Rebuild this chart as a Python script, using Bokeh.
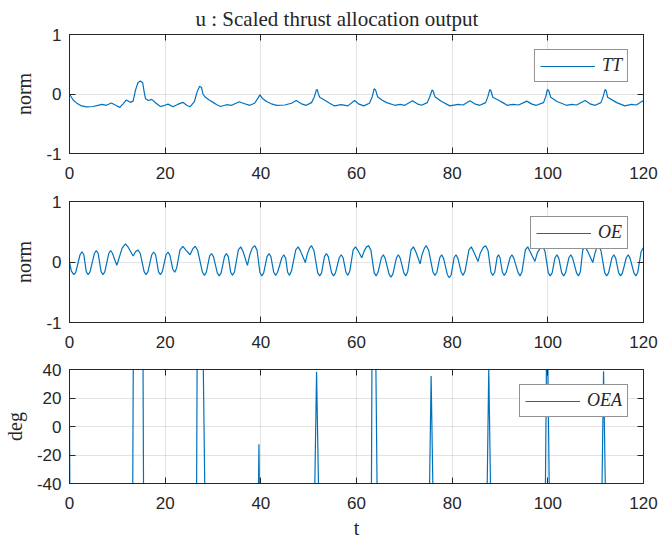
from bokeh.plotting import figure
from bokeh.layouts import column
from bokeh.models import (LinearAxis, Range1d, Legend, LegendItem, FixedTicker, Title)
from bokeh.embed import file_html
from bokeh.resources import INLINE

# ---- data -------------------------------------------------------------
time_ticks = [0, 20, 40, 60, 80, 100, 120]
norm_ticks = [-1, 0, 1]
deg_ticks = [-40, -20, 0, 20, 40]

# TT: scaled thrust output (norm)
tt_points = [
    (0, 0), (0.76, -0.10), (1.46, -0.15), (2.5, -0.20), (3.54, -0.215), (4.93, -0.21),
    (5.97, -0.19), (6.8, -0.175), (7.7, -0.19), (8.75, -0.15), (9.65, -0.19), (10.5, -0.225),
    (11.2, -0.165), (11.9, -0.10), (12.7, -0.14), (13.3, -0.12), (13.8, 0.065), (14.3, 0.19),
    (14.8, 0.22), (15.3, 0.19), (15.6, 0.04), (15.9, -0.08), (16.5, -0.11), (17.2, -0.09),
    (18.1, -0.155), (19.0, -0.21), (19.9, -0.19), (20.6, -0.17), (21.6, -0.215), (22.6, -0.175),
    (23.7, -0.14), (24.5, -0.19), (25.2, -0.215), (26.1, -0.13), (26.7, 0.04), (27.2, 0.13),
    (27.6, 0.11), (27.9, 0.0), (28.4, -0.055), (29.2, -0.10), (30.1, -0.145), (30.8, -0.18),
    (31.6, -0.21), (32.8, -0.18), (33.9, -0.19), (35.5, -0.13), (36.3, -0.155), (37.7, -0.19),
    (38.7, -0.155), (39.4, -0.07), (39.8, -0.015), (40.3, -0.07), (41.2, -0.125), (42.2, -0.165),
    (43.3, -0.19), (45.0, -0.185), (46.4, -0.155), (47.4, -0.11), (48.5, -0.165), (49.5, -0.19),
    (50.6, -0.145), (51.2, -0.045), (51.6, 0.065), (51.8, 0.075), (52.0, 0.01), (52.3, -0.055),
    (53.3, -0.10), (54.4, -0.155), (55.4, -0.20), (56.8, -0.18), (58.2, -0.20), (59.6, -0.11),
    (60.4, -0.165), (61.5, -0.20), (62.7, -0.155), (63.3, -0.045), (63.7, 0.09), (64.0, 0.065),
    (64.4, -0.045), (65.3, -0.10), (66.3, -0.145), (68.0, -0.19), (69.1, -0.175), (70.1, -0.19),
    (71.7, -0.115), (72.7, -0.165), (73.6, -0.19), (74.8, -0.145), (75.3, -0.045), (75.8, 0.065),
    (76.0, 0.055), (76.4, -0.045), (77.8, -0.125), (79.5, -0.20), (81.25, -0.175), (82.3, -0.185),
    (83.7, -0.115), (84.7, -0.165), (85.8, -0.19), (87.0, -0.145), (87.5, -0.035), (87.85, 0.075),
    (88.1, 0.055), (88.5, -0.055), (89.6, -0.10), (90.6, -0.145), (91.5, -0.19), (92.8, -0.175),
    (93.9, -0.185), (95.6, -0.12), (96.7, -0.17), (97.6, -0.19), (99.1, -0.145), (99.6, -0.035),
    (99.9, 0.075), (100.2, 0.055), (100.6, -0.055), (101.9, -0.125), (103.9, -0.19), (105.0, -0.175),
    (106.0, -0.185), (107.8, -0.11), (108.8, -0.165), (109.9, -0.19), (111.1, -0.145), (111.6, -0.035),
    (111.95, 0.075), (112.2, 0.055), (112.5, -0.055), (114.4, -0.145), (116.1, -0.20), (117.5, -0.175),
    (118.5, -0.185), (119.9, -0.115), (120, -0.12),
]

# OE: output error (norm)
oe_points = [
    (0.0, 0.00), (0.4, -0.15), (0.9, -0.21), (1.3, -0.17), (2.2, 0.12), (2.6, 0.17), (3.0, 0.12),
    (3.5, -0.16), (3.9, -0.21), (4.3, -0.16), (5.2, 0.14), (5.6, 0.19), (6.0, 0.14), (6.6, -0.16),
    (7.0, -0.21), (7.4, -0.16), (8.2, 0.14), (8.6, 0.19), (9.0, 0.14), (9.5, 0.03), (9.9, -0.055),
    (10.3, 0.05), (11.0, 0.23), (11.7, 0.30), (12.3, 0.24), (13.3, 0.10), (13.8, 0.17), (14.3, 0.20),
    (14.8, 0.14), (15.6, -0.16), (16.0, -0.21), (16.4, -0.16), (17.2, 0.12), (17.6, 0.165), (18.0, 0.12),
    (18.6, -0.16), (19.0, -0.21), (19.4, -0.16), (20.2, 0.12), (20.6, 0.165), (21.0, 0.11), (21.6, -0.12),
    (22.0, -0.17), (22.4, -0.10), (23.1, 0.20), (23.7, 0.26), (24.3, 0.20), (25.2, 0.12), (25.8, 0.22),
    (26.3, 0.26), (26.8, 0.19), (27.8, -0.17), (28.2, -0.22), (28.6, -0.17), (29.3, 0.10), (29.7, 0.14),
    (30.1, 0.09), (30.9, -0.18), (31.3, -0.23), (31.7, -0.18), (32.4, 0.09), (32.8, 0.14), (33.2, 0.09),
    (33.7, -0.17), (34.1, -0.22), (34.5, -0.16), (35.3, 0.20), (35.8, 0.25), (36.3, 0.17), (37.2, -0.055),
    (37.7, 0.12), (38.2, 0.23), (38.7, 0.27), (39.2, 0.20), (39.8, -0.17), (40.2, -0.23), (40.6, -0.18),
    (41.3, 0.09), (41.7, 0.14), (42.1, 0.09), (42.7, -0.17), (43.1, -0.22), (43.5, -0.17), (44.4, 0.07),
    (44.8, 0.12), (45.2, 0.06), (45.6, -0.17), (46.0, -0.22), (46.4, -0.15), (47.3, 0.20), (47.8, 0.25),
    (48.3, 0.18), (49.3, -0.01), (49.7, 0.13), (50.2, 0.23), (50.6, 0.27), (51.1, 0.19), (51.9, -0.18),
    (52.3, -0.23), (52.7, -0.18), (53.3, 0.09), (53.7, 0.14), (54.1, 0.09), (54.8, -0.18), (55.2, -0.23),
    (55.6, -0.18), (56.4, 0.07), (56.8, 0.12), (57.2, 0.07), (57.8, -0.17), (58.2, -0.22), (58.6, -0.15),
    (59.3, 0.20), (59.8, 0.25), (60.3, 0.19), (61.1, 0.07), (61.6, 0.18), (62.1, 0.25), (62.5, 0.27),
    (63.0, 0.20), (63.7, -0.18), (64.1, -0.23), (64.5, -0.17), (65.2, 0.07), (65.6, 0.12), (66.0, 0.06),
    (66.8, -0.20), (67.2, -0.25), (67.6, -0.20), (68.35, 0.07), (68.75, 0.12), (69.15, 0.06), (69.9, -0.18),
    (70.3, -0.23), (70.7, -0.16), (71.4, 0.20), (71.9, 0.25), (72.4, 0.17), (73.3, -0.03), (73.7, 0.12),
    (74.2, 0.23), (74.6, 0.27), (75.1, 0.19), (76.0, -0.17), (76.4, -0.22), (76.8, -0.17), (77.4, 0.07),
    (77.8, 0.12), (78.2, 0.06), (79.0, -0.21), (79.4, -0.26), (79.8, -0.21), (80.4, 0.07), (80.8, 0.12),
    (81.2, 0.06), (81.9, -0.17), (82.3, -0.22), (82.7, -0.15), (83.5, 0.20), (84.0, 0.25), (84.5, 0.17),
    (85.4, 0.01), (85.9, 0.15), (86.5, 0.24), (87.0, 0.27), (87.5, 0.19), (88.1, -0.17), (88.5, -0.22),
    (88.9, -0.17), (89.4, 0.08), (89.7, 0.12), (90.0, 0.07), (90.5, -0.17), (90.9, -0.22), (91.3, -0.17),
    (92.1, 0.07), (92.5, 0.12), (92.9, 0.06), (93.8, -0.18), (94.2, -0.23), (94.6, -0.16), (95.3, 0.20),
    (95.8, 0.25), (96.3, 0.17), (97.3, 0.01), (97.8, 0.15), (98.4, 0.23), (98.9, 0.26), (99.4, 0.18),
    (100.1, -0.18), (100.5, -0.23), (100.9, -0.18), (101.5, 0.07), (101.9, 0.12), (102.3, 0.06),
    (102.9, -0.18), (103.3, -0.23), (103.7, -0.18), (104.4, 0.07), (104.8, 0.12), (105.2, 0.06),
    (106.0, -0.18), (106.4, -0.23), (106.8, -0.16), (107.3, 0.20), (107.8, 0.25), (108.3, 0.18),
    (109.4, -0.01), (109.8, 0.13), (110.2, 0.23), (110.6, 0.27), (111.1, 0.19), (111.9, -0.18),
    (112.3, -0.23), (112.7, -0.18), (113.4, 0.07), (113.8, 0.12), (114.2, 0.06), (114.8, -0.18),
    (115.2, -0.23), (115.6, -0.18), (116.4, 0.07), (116.8, 0.12), (117.2, 0.06), (118.0, -0.18),
    (118.4, -0.23), (118.8, -0.17), (119.5, 0.17), (120.0, 0.24),
]

# OEA: output error angle (deg); values outside +-40 leave the axes
oea_points = [
    (0, 0), (0.1, -60), (13.2, -60), (13.35, 60), (15.35, 60), (15.5, -60),
    (26.55, -60), (26.7, 60), (27.9, 60), (28.35, -60), (39.45, -60), (39.6, -12.5),
    (39.75, -60), (51.2, -60), (51.65, 38.5), (52.15, -60), (63.1, -60), (63.25, 60),
    (64.0, 60), (64.35, -60), (75.2, -60), (75.6, 35.5), (76.05, -60), (87.25, -60),
    (87.65, 40.5), (88.1, -60), (99.45, -60), (99.75, 60), (99.95, 60), (100.35, -60),
    (111.25, -60), (111.65, 38.7), (112.1, -60), (120, -60),
]

title_text = "u : Scaled thrust allocation output"

# ---- styling ----------------------------------------------------------
BLUE = "#0072BD"
INK = "#262626"
SANS = "Liberation Sans"
SERIF = "Liberation Serif"
TICK_SIZE = "17px"


def hyphen_labels(ticks):
    # plain hyphen for negative tick labels
    return {t: str(t) for t in ticks if t < 0}


def style_axis(ax, ticks, show_labels=True):
    ax.ticker = FixedTicker(ticks=ticks)
    ax.axis_line_color = INK
    ax.axis_line_width = 1
    ax.major_tick_line_color = INK
    ax.major_tick_in = 6
    ax.major_tick_out = 0
    ax.minor_tick_line_color = None
    if show_labels:
        ax.major_label_text_font = SANS
        ax.major_label_text_font_size = TICK_SIZE
        ax.major_label_text_color = INK
        ax.major_label_overrides = hyphen_labels(ticks)
    else:
        ax.major_label_text_font_size = "1px"
        ax.major_label_text_color = None
        ax.major_label_standoff = 0


def panel(height, top, bottom, yr, yticks, ylabel, points, name, title=None):
    p = figure(width=662, height=height, x_range=Range1d(0, 120),
               y_range=Range1d(*yr), output_backend="svg", toolbar_location=None,
               min_border_left=67, min_border_right=19,
               min_border_top=top, min_border_bottom=bottom, title=title)
    p.background_fill_color = "white"
    p.border_fill_color = "white"
    p.outline_line_color = INK
    p.outline_line_width = 1

    xb = p.below[0]
    yl = p.left[0]
    style_axis(xb, time_ticks)
    xb.major_label_standoff = 13
    style_axis(yl, yticks)
    yl.major_label_standoff = 8
    yl.axis_label = ylabel
    yl.axis_label_text_font = SERIF
    yl.axis_label_text_font_style = "normal"
    yl.axis_label_text_font_size = "20px"
    yl.axis_label_text_color = INK
    yl.axis_label_standoff = 8

    right = LinearAxis()
    style_axis(right, yticks, show_labels=False)
    p.add_layout(right, "right")
    top_ax = LinearAxis()
    style_axis(top_ax, time_ticks, show_labels=False)
    p.add_layout(top_ax, "above")

    p.xgrid.ticker = FixedTicker(ticks=time_ticks)
    p.ygrid.ticker = FixedTicker(ticks=yticks)
    for g in (p.xgrid[0], p.ygrid[0]):
        g.grid_line_color = INK
        g.grid_line_alpha = 0.13
        g.grid_line_width = 1

    ts = [pt[0] for pt in points]
    vs = [pt[1] for pt in points]
    r = p.line(ts, vs, line_color=BLUE, line_width=1.2)

    leg = Legend(items=[LegendItem(label=name, renderers=[r])],
                 location="top_right", margin=15, padding=5,
                 glyph_width=55, glyph_height=14, label_height=14,
                 label_standoff=7, spacing=0,
                 border_line_color=INK, border_line_width=1,
                 background_fill_color="white", background_fill_alpha=1,
                 label_text_font=SERIF, label_text_font_style="italic",
                 label_text_font_size="18px", label_text_color=INK)
    p.add_layout(leg)
    return p


head_title = Title(text=title_text, align="left", offset=126, standoff=8,
                   text_font=SERIF, text_font_style="normal", text_font_size="21px",
                   text_color=INK)

p1 = panel(185, 32, 32, (-1, 1), norm_ticks, "norm", tt_points, "TT", title=head_title)
p2 = panel(169, 16, 32, (-1, 1), norm_ticks, "norm", oe_points, "OE")
p3 = panel(187, 15, 53, (-40, 40), deg_ticks, "deg", oea_points, "OEA")

xb3 = p3.below[0]
xb3.axis_label = "t"
xb3.axis_label_text_font = SERIF
xb3.axis_label_text_font_style = "normal"
xb3.axis_label_text_font_size = "20px"
xb3.axis_label_text_color = INK
xb3.axis_label_standoff = 5

layout = column(p1, p2, p3, spacing=0)
open("out.html", "w").write(file_html(layout, INLINE))
